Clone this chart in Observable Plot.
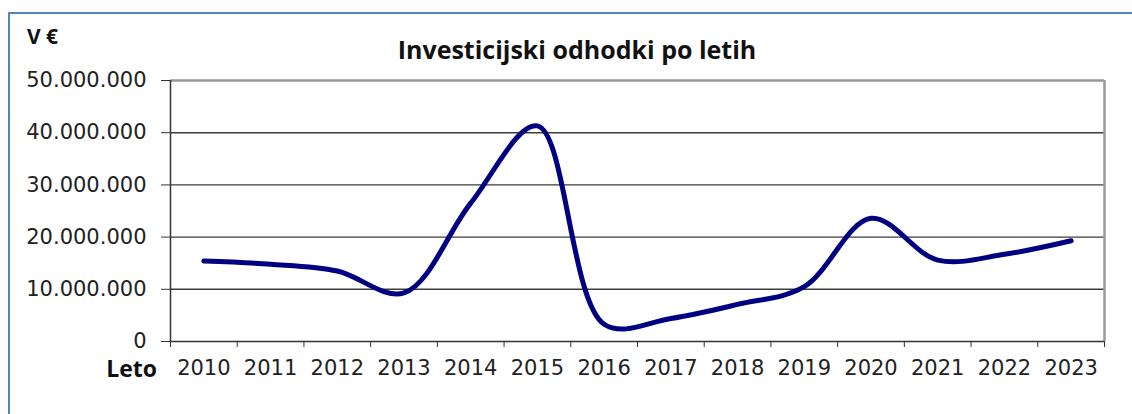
<!DOCTYPE html>
<html>
<head>
<meta charset="utf-8">
<script src="https://cdn.jsdelivr.net/npm/d3@7"></script>
<script src="https://cdn.jsdelivr.net/npm/@observablehq/plot@0.6"></script>
<style>
  html, body { margin: 0; padding: 0; background: #fff; overflow: hidden; }
  #wrap { position: relative; width: 1132px; height: 414px; overflow: hidden; }
  #frame { position: absolute; left: 8px; top: 12px; width: 1400px; height: 800px;
           border-top: 2px solid #5082c0; border-left: 2px solid #5082c0; }
  #chart { position: absolute; left: 0; top: 0; }
  #over { position: absolute; left: 0; top: 0; pointer-events: none; }
</style>
</head>
<body>
<div id="wrap">
  <div id="frame"></div>
  <div id="chart"></div>
  <svg id="over" width="1132" height="414"></svg>
</div>
<script>
// ---- data ----
const years = [2010, 2011, 2012, 2013, 2014, 2015, 2016, 2017, 2018, 2019, 2020, 2021, 2022, 2023];
const values = [15400000, 14800000, 13500000, 9300000, 26500000, 41300000, 3300000, 4400000, 7100000, 10500000, 23600000, 15600000, 16700000, 19300000];
const yTicks = [0, 10000000, 20000000, 30000000, 40000000, 50000000];
const title = "Investicijski odhodki po letih";
const yUnit = "V €";
const xName = "Leto";

const data = years.map((year, i) => ({year, value: values[i]}));
const bounds = years.map(y => y - 0.5).concat([years[years.length - 1] + 0.5]);
const loc = d3.formatLocale({decimal: ",", thousands: ".", grouping: [3], currency: ["", " €"]});
const fmt = loc.format(",d");

const chart = Plot.plot({
  width: 1132,
  height: 414,
  marginLeft: 170,
  marginRight: 28,
  marginTop: 80,
  marginBottom: 73,
  style: {fontFamily: "DejaVu Sans", fontSize: "21px", color: "#222", background: "transparent"},
  x: {domain: [bounds[0], bounds[bounds.length - 1]], label: null},
  y: {domain: [0, 50000000], label: null},
  marks: [
    Plot.ruleY(yTicks.slice(1, -1), {stroke: "#3c3c3c", strokeWidth: 1.4}),
    Plot.ruleY([yTicks[yTicks.length - 1]], {stroke: "#9a9a9a", strokeWidth: 2.5}),
    Plot.ruleX([bounds[bounds.length - 1]], {stroke: "#9a9a9a", strokeWidth: 2.5}),
    Plot.ruleX([bounds[0]], {stroke: "#333", strokeWidth: 1.5}),
    Plot.ruleY([0], {stroke: "#333", strokeWidth: 1.5}),
    Plot.axisY({ticks: yTicks, tickSize: 9, tickPadding: 15, tickFormat: fmt, fontSize: 21, stroke: "#333"}),
    Plot.axisX({ticks: bounds, tickSize: 6, tickFormat: () => "", stroke: "#333"}),
    Plot.axisX({ticks: years, tickSize: 0, tickPadding: 19, tickFormat: d => String(d), fontSize: 21}),
    Plot.line(data, {x: "year", y: "value", curve: "catmull-rom", stroke: "#000080", strokeWidth: 5})
  ]
});
document.getElementById("chart").appendChild(chart);

const over = d3.select("#over");
over.append("text").attr("x", 577).attr("y", 59).attr("text-anchor", "middle")
  .attr("font-family", "Open Sans").attr("font-weight", "bold").attr("font-size", 25).attr("fill", "#111")
  .text(title);
over.append("text").attr("x", 27).attr("y", 44).attr("text-anchor", "start")
  .attr("font-family", "Open Sans").attr("font-weight", "bold").attr("font-size", 21).attr("fill", "#111")
  .text(yUnit);
over.append("text").attr("x", 157).attr("y", 377).attr("text-anchor", "end")
  .attr("font-family", "Open Sans").attr("font-weight", "bold").attr("font-size", 23).attr("fill", "#111")
  .text(xName);
</script>
</body>
</html>
